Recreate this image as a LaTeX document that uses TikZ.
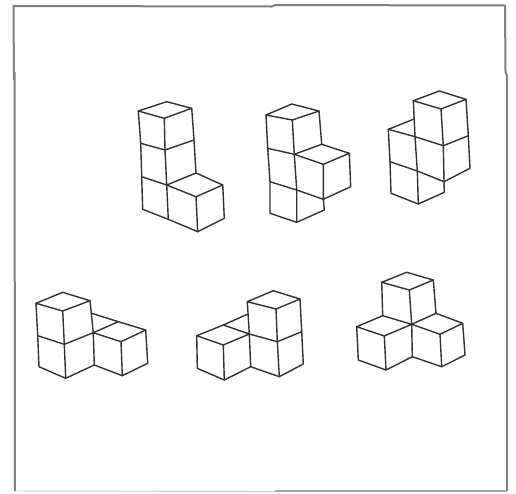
\documentclass[tikz,border=0pt]{standalone}
\tikzset{
  cubeline/.style={line width=1.05pt,line join=round,line cap=round,draw=black!80},
  frameline/.style={line width=1.5pt,draw=black!50,line join=round}
}
\begin{document}
\begin{tikzpicture}[x=0.75pt,y=-0.75pt]
\useasboundingbox (0,0) rectangle (516,493);
\fill[white] (0,0) rectangle (516,493);
% frame
\draw[frameline] (14,80) -- (13.5,6) -- (272,6.5) -- (275,5) -- (505,5.5) -- (505.5,72) -- (507,76);
\draw[frameline] (14.5,72) -- (15,491);
\draw[frameline] (507,76) -- (507,491);
\draw[line width=0.7pt,draw=black!20] (15,491) -- (275,491.5);
\draw[line width=1pt,draw=black!35] (275,491) -- (507,491);
\begin{scope}[cubeline]
% figure 1
\draw (166.7,101.7) -- (138.3,111) -- (164.3,118.3) -- (191.7,108.3) -- cycle;
\draw (138.3,111) -- (140.7,143.3) -- (141.7,176.7) -- (142.7,209.3) -- (168.3,219.3) -- (197.7,231.7) -- (224.3,218.3) -- (222.7,185) -- (196,173) -- (194,140) -- (191.7,108.3);
\draw (164.3,118.3) -- (165,150) -- (166.7,185) -- (168.3,219.3);
\draw (140.7,143.3) -- (165,150) -- (194,140);
\draw (141.7,176.7) -- (166.7,185) -- (196,173);
\draw (166.7,185) -- (196,196.7) -- (222.7,185);
\draw (196,196.7) -- (197.7,231.7);
% figure 2
\draw (291.7,104) -- (266,115) -- (292.3,120) -- (319,111) -- cycle;
\draw (266,115) -- (267.7,148.3) -- (270,181.7) -- (270,213.3) -- (296.7,222.3) -- (324.3,210) -- (323.3,199.3);
\draw (292.3,120) -- (294.3,154.3) -- (296.7,190) -- (296.7,222.3);
\draw (319,111) -- (321.7,144.3);
\draw (267.7,148.3) -- (294.3,154.3) -- (321.7,144.3);
\draw (294.3,154.3) -- (323.3,164.3) -- (349.3,153.3) -- (321.7,144.3);
\draw (323.3,164.3) -- (323.3,199.3) -- (350.7,186.7) -- (349.3,153.3);
\draw (270,181.7) -- (296.7,190) -- (323.3,199.3);
% figure 3
\draw (439.3,91) -- (413.3,100.7) -- (441,109) -- (466,99.3) -- cycle;
\draw (413.3,100.7) -- (415,136.7) -- (417.3,171) -- (418.3,204);
\draw (441,109) -- (443.3,145.7) -- (444,181.7) -- (444.3,192.3) -- (418.3,204) -- (391,193.3) -- (390,161.7) -- (388.3,129.3) -- (413.3,119.3);
\draw (466,99.3) -- (468.3,135.7) -- (470,168.3) -- (444,181.7) -- (417.3,171) -- (390,161.7);
\draw (388.3,129.3) -- (415,136.7) -- (443.3,145.7) -- (468.3,135.7);
% figure 4
\draw (62.7,292.3) -- (36,303.3) -- (62.7,311) -- (90,300.7) -- cycle;
\draw (36,303.3) -- (37.7,335.7) -- (39,366.7) -- (65.7,378.3) -- (94.3,365) -- (122.3,375.7) -- (147.7,363.3) -- (145.7,330) -- (118.3,321.7) -- (91.7,313.3);
\draw (62.7,311) -- (64.3,344.3) -- (65.7,378.3);
\draw (90,300.7) -- (93.3,332.7) -- (94.3,365);
\draw (37.7,335.7) -- (64.3,344.3) -- (93.3,332.7) -- (118.3,321.7);
\draw (93.3,332.7) -- (121,341.7) -- (145.7,330);
\draw (121,341.7) -- (122.3,375.7);
% figure 5
\draw (273.3,290.7) -- (247.3,301.7) -- (276,309) -- (300,299) -- cycle;
\draw (247.3,301.7) -- (249.3,334) -- (250.7,366.7) -- (279.3,376.7) -- (303.3,364) -- (301.7,331.7) -- (300,299);
\draw (276,309) -- (277.3,341.7) -- (279.3,376.7);
\draw (249.3,334) -- (277.3,341.7) -- (301.7,331.7);
\draw (247.3,314.3) -- (223.3,325) -- (196.7,335.7) -- (223.3,345) -- (249.3,334) -- (223.3,325);
\draw (196.7,335.7) -- (197.3,368.3) -- (224.3,380) -- (250.7,366.7);
\draw (223.3,345) -- (224.3,380);
% figure 6
\draw (406.7,272.3) -- (381.7,282.3) -- (409.3,290) -- (433.3,280) -- cycle;
\draw (381.7,282.3) -- (382.7,315.7) -- (356.7,326.7) -- (384.3,336) -- (411.7,324.3) -- (382.7,315.7);
\draw (409.3,290) -- (411.7,324.3) -- (412.3,356.7);
\draw (433.3,280) -- (436,313.3) -- (411.7,324.3) -- (440,334.3) -- (462.7,323.3) -- (436,313.3);
\draw (356.7,326.7) -- (358.3,360) -- (386,370) -- (412.3,356.7) -- (441.7,366.7) -- (465,355) -- (462.7,323.3);
\draw (384.3,336) -- (386,370);
\draw (440,334.3) -- (441.7,366.7);
\end{scope}
\end{tikzpicture}
\end{document}
